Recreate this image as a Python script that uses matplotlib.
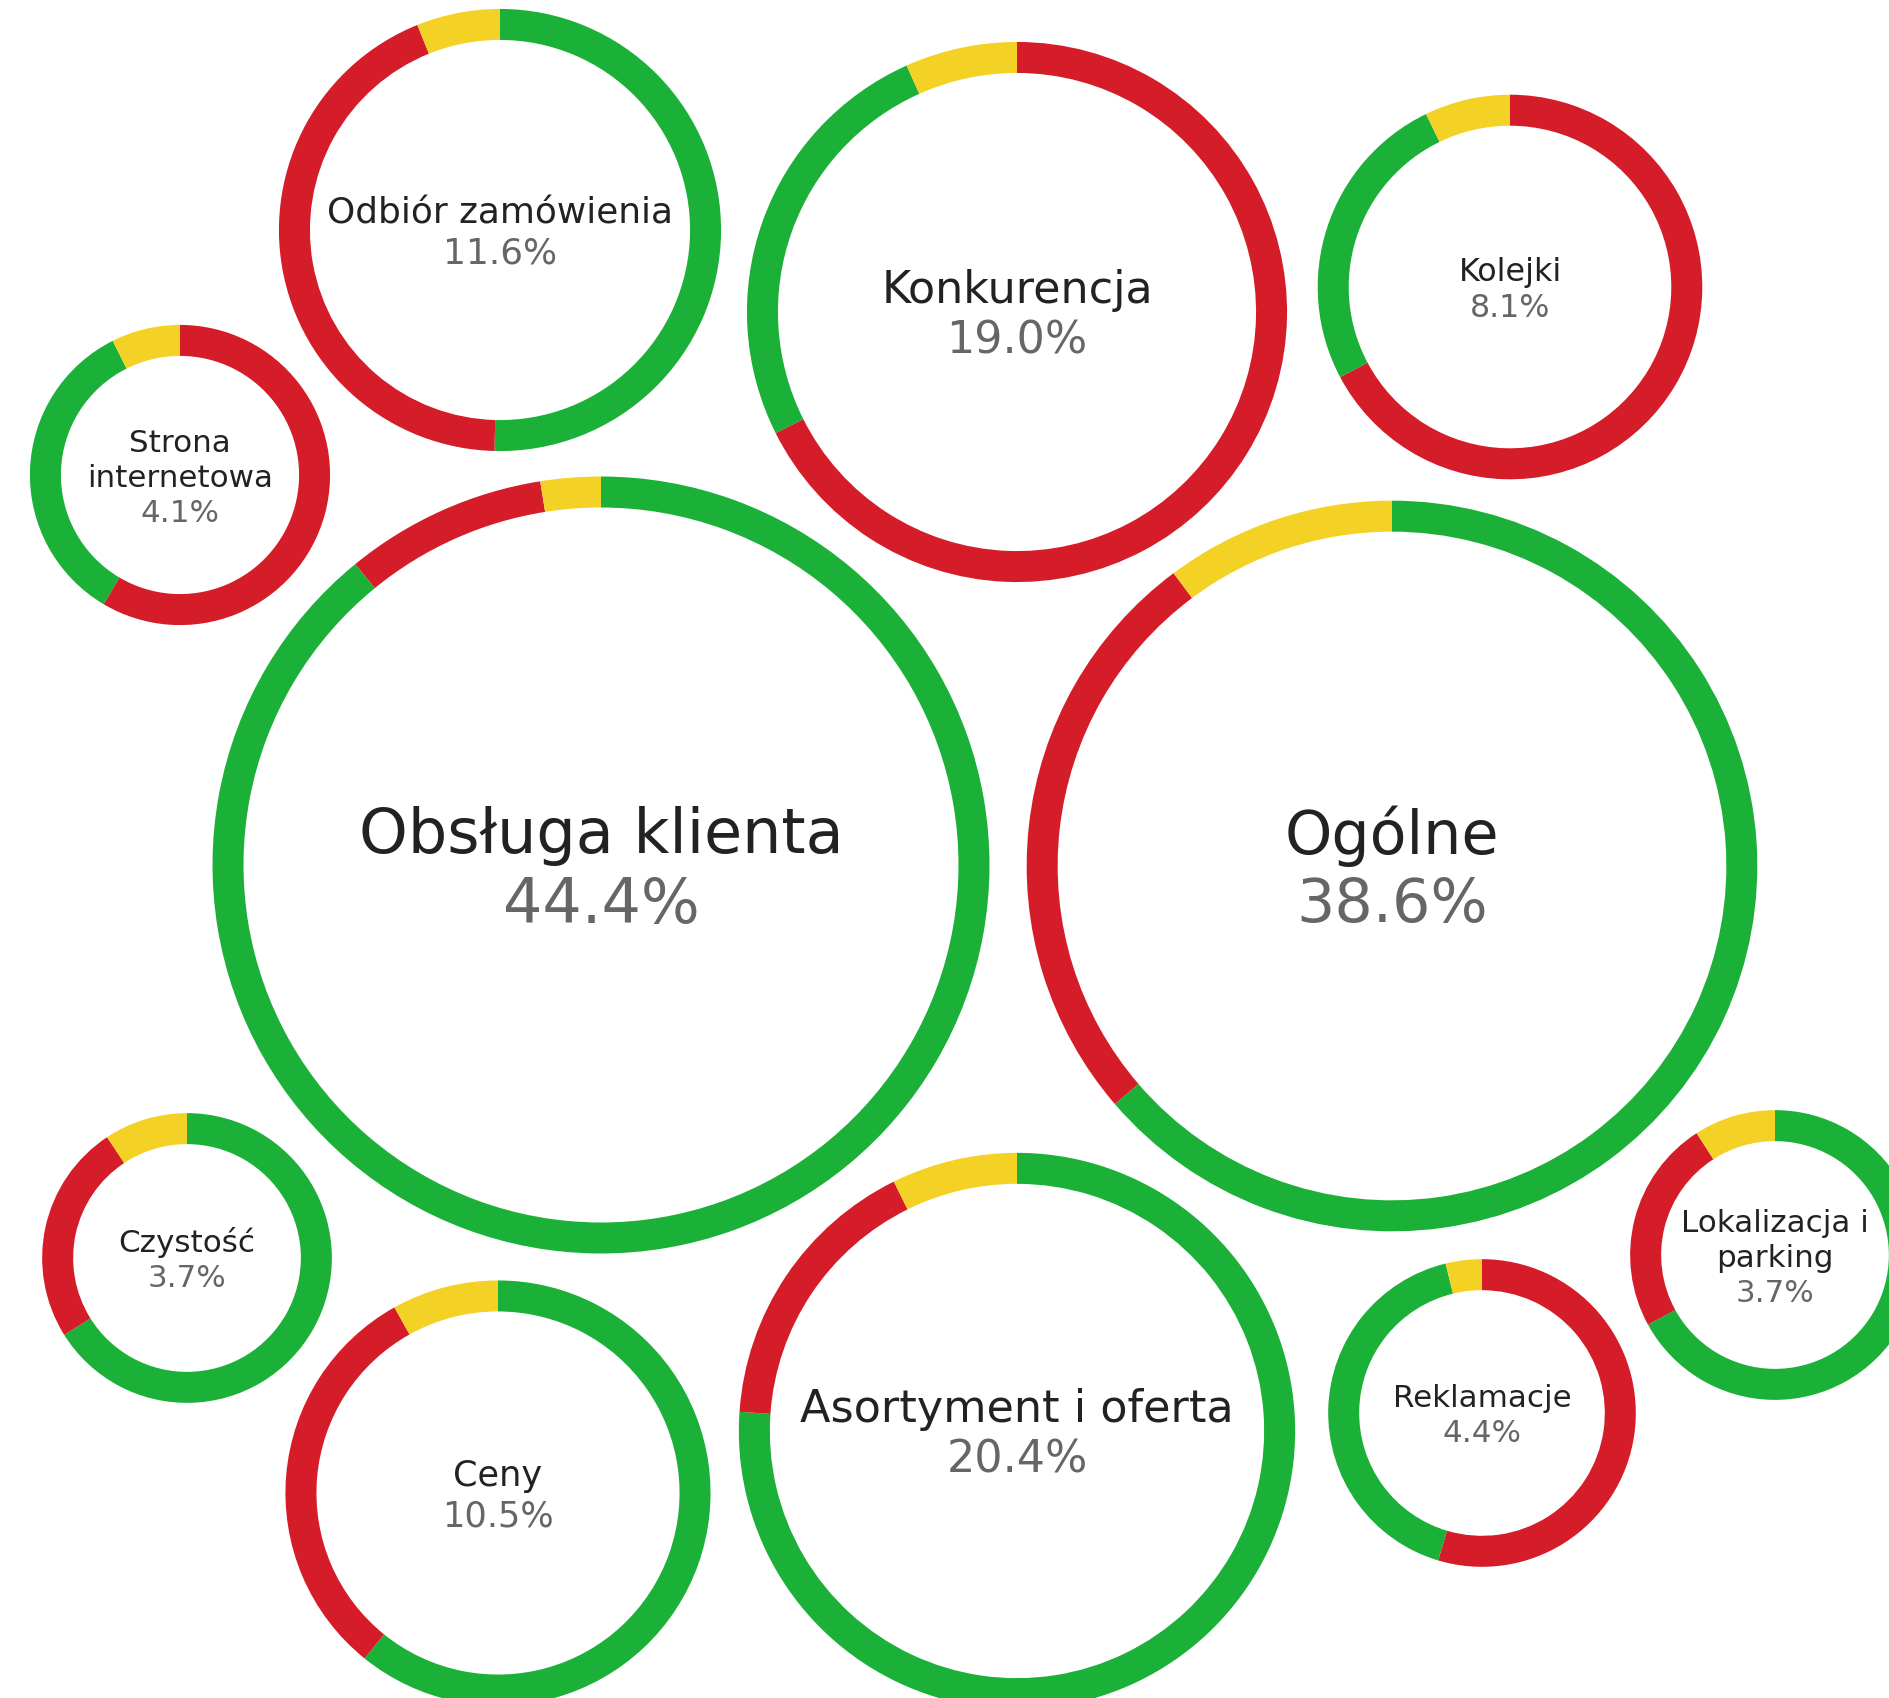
import numpy as np
import matplotlib
matplotlib.use("Agg")
import matplotlib.pyplot as plt
from matplotlib.textpath import TextPath
from matplotlib.font_manager import FontProperties

# categories, share of all mentions (%) and the sentiment split inside each ring (%)
labels = ["Obsługa klienta", "Ogólne", "Asortyment i oferta", "Konkurencja",
          "Odbiór zamówienia", "Ceny", "Kolejki", "Reklamacje",
          "Strona\ninternetowa", "Czystość", "Lokalizacja i\nparking"]
share = [44.4, 38.6, 20.4, 19.0, 11.6, 10.5, 8.1, 4.4, 4.1, 3.7, 3.7]
positive = [89.1, 63.7, 76.1, 25.7, 50.4, 60.8, 25.6, 41.6, 34.1, 66.1, 67.0]
negative = [8.4, 26.1, 16.6, 67.6, 43.5, 31.1, 67.3, 54.6, 58.5, 24.6, 23.9]
neutral = [2.5, 10.2, 7.3, 6.7, 6.1, 8.1, 7.2, 3.8, 7.4, 9.3, 9.1]

# bubble layout (pixel positions of the packed circles)
centers = [(601, 866), (1392, 867), (1017, 1432), (1017, 313),
           (500, 231), (498, 1494), (1510, 288), (1482, 1414),
           (180, 476), (187, 1259), (1775, 1256)]

W, H, DPI = 1890, 1699, 100
GREEN, RED, YELLOW = "#1bb037", "#d51c29", "#f4d225"
RING = 31
prop = FontProperties(family="DejaVu Sans")

fig = plt.figure(figsize=(W / DPI, H / DPI), dpi=DPI)
ax = fig.add_axes([0, 0, 1, 1])

for i, name in enumerate(labels):
    cx, cy = centers[i]
    r = 51.4 * np.sqrt(share[i]) + 46
    parts = [(positive[i], GREEN), (negative[i], RED), (neutral[i], YELLOW)]
    parts = sorted(parts, key=lambda p: -p[0])
    ax.pie([p[0] for p in parts], colors=[p[1] for p in parts], radius=r,
           center=(cx, cy), startangle=-90, counterclock=True,
           wedgeprops=dict(width=RING, linewidth=0), frame=True)

    # font size follows the bubble, shrunk if the label is too wide
    fs = min(62, max(31, 0.165 * r))
    lines = name.split("\n")
    wmax = max(TextPath((0, 0), s, size=fs, prop=prop).get_extents().width for s in lines)
    if wmax > 0.77 * 2 * r:
        fs *= 0.77 * 2 * r / wmax
    all_lines = lines + ["%.1f%%" % share[i]]
    n = len(all_lines)
    for j, s in enumerate(all_lines):
        y = cy + ((j - (n - 1) / 2) * 1.13 + 0.35) * fs
        col = "#666666" if j == n - 1 else "#222222"
        ax.text(cx, y, s, ha="center", va="baseline", fontsize=fs * 72 / DPI,
                color=col, family="DejaVu Sans")

ax.set_xlim(0, W)
ax.set_ylim(H, 0)
ax.set_aspect("equal")
ax.axis("off")
fig.savefig("out.png", dpi=DPI, facecolor="white")
